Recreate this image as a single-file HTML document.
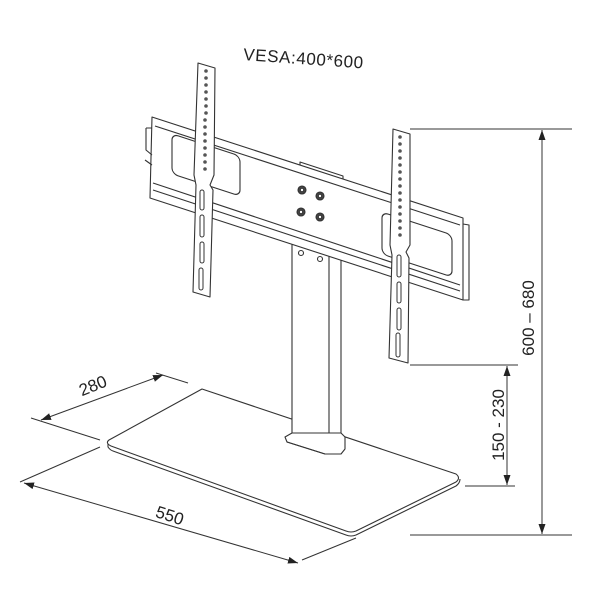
<!DOCTYPE html>
<html><head><style>body{margin:0;background:#fff}svg{display:block}</style></head>
<body>
<svg width="600" height="600" viewBox="0 0 600 600" xmlns="http://www.w3.org/2000/svg" font-family="Liberation Sans, Arial, sans-serif">
<defs>
<marker id="a" viewBox="0 0 10 10" refX="10" refY="5" markerWidth="10" markerHeight="10" orient="auto-start-reverse" markerUnits="userSpaceOnUse"><path d="M0,1.5 L10,5 L0,8.5z" fill="#222"/></marker>
</defs>
<g stroke="#333" stroke-width="1.1" fill="#fff" stroke-linejoin="round">
<!-- base plate -->
<path d="M109,440 L202,389 L456,474 Q461,478 456,482 L356,531 Q351,533 346,531 L111,446 Q105,443 109,440z"/>
<path d="M108,444 L108,447 Q110,450 113,451 L346,535 Q351,537 356,535 L456,486 Q460,483 460,479" fill="none"/>
<!-- column -->
<rect x="292" y="240" width="49" height="200"/>
<line x1="329" y1="250" x2="329" y2="440"/>
<path d="M285,437 L292,433 L341,433 L345,437 L345,449 L341,454 L325,454 L287,442z"/>
<path d="M287,442 L325,454" fill="none"/>
<circle cx="301" cy="253" r="2.5"/><circle cx="320" cy="259" r="2.5"/>
<!-- center block -->
<path d="M300,162 L343,176 L343,188 L300,176z"/>
<!-- horizontal bar -->
<path d="M152,117 L463,218 L463,300 L150,198z"/>
<path d="M155,126 L460,225" fill="none"/>
<path d="M153,183 L460,285" fill="none"/>
<path d="M153,190 L460,291" fill="none"/>
<path d="M146,128 L152,128 M146,128 L146,150 L152,155 M145,160 L152,165" fill="none"/>
<path d="M463,224 L469,225 L469,300 L463,300" fill="none"/>
<rect x="172" y="140" width="68" height="40" rx="6" transform="skewY(18) translate(0,-62)"/>
<rect x="382" y="212" width="70" height="42" rx="6" transform="skewY(18) translate(0,-124)"/>
<!-- bolts -->
<g fill="#444"><circle cx="302" cy="190" r="4"/><circle cx="320" cy="196" r="4"/><circle cx="301" cy="212" r="4"/><circle cx="320" cy="217" r="4"/></g>
<g fill="#fff" stroke-width="0.8"><circle cx="302" cy="190" r="1.6"/><circle cx="320" cy="196" r="1.6"/><circle cx="301" cy="212" r="1.6"/><circle cx="320" cy="217" r="1.6"/></g>
<!-- left arm -->
<path d="M198,63 L215,68 L214,175 L210,185 L213,190 L210,297 L193,292 L196,185 L194,175z"/>
<!-- right arm -->
<path d="M393,129 L410,134 L410,245 L406,252 L409,258 L408,363 L389,358 L392,255 L390,245z"/>
</g>
<g fill="#555">
<circle cx="206" cy="71" r="1.8"/><circle cx="206" cy="78" r="1.8"/><circle cx="206" cy="85" r="1.8"/><circle cx="206" cy="92" r="1.8"/><circle cx="206" cy="99" r="1.8"/><circle cx="206" cy="106" r="1.8"/><circle cx="206" cy="113" r="1.8"/><circle cx="205" cy="120" r="1.8"/><circle cx="205" cy="127" r="1.8"/><circle cx="205" cy="134" r="1.8"/><circle cx="205" cy="141" r="1.8"/><circle cx="205" cy="148" r="1.8"/><circle cx="205" cy="155" r="1.8"/><circle cx="205" cy="162" r="1.8"/><circle cx="205" cy="169" r="1.8"/>
<circle cx="400" cy="137" r="1.8"/><circle cx="400" cy="144" r="1.8"/><circle cx="400" cy="151" r="1.8"/><circle cx="400" cy="158" r="1.8"/><circle cx="400" cy="165" r="1.8"/><circle cx="400" cy="172" r="1.8"/><circle cx="400" cy="179" r="1.8"/><circle cx="400" cy="186" r="1.8"/><circle cx="400" cy="193" r="1.8"/><circle cx="400" cy="200" r="1.8"/><circle cx="400" cy="207" r="1.8"/><circle cx="400" cy="214" r="1.8"/><circle cx="400" cy="221" r="1.8"/><circle cx="400" cy="228" r="1.8"/><circle cx="400" cy="235" r="1.8"/>
</g>
<g fill="none" stroke="#333" stroke-width="1">
<rect x="200" y="190" width="4" height="20" rx="2"/><rect x="200" y="215" width="4" height="22" rx="2"/><rect x="200" y="242" width="4" height="21" rx="2"/><rect x="199" y="268" width="4" height="22" rx="2"/>
<rect x="397" y="255" width="4" height="22" rx="2"/><rect x="397" y="282" width="4" height="21" rx="2"/><rect x="397" y="308" width="4" height="22" rx="2"/><rect x="396" y="333" width="4" height="24" rx="2"/>
</g>
<!-- dimensions -->
<g stroke="#333" stroke-width="1" fill="none">
<line x1="410" y1="129" x2="572" y2="129"/>
<line x1="410" y1="365" x2="518" y2="365"/>
<line x1="465" y1="486" x2="515" y2="486"/>
<line x1="410" y1="535" x2="572" y2="535"/>
<line x1="542" y1="130" x2="542" y2="534" marker-start="url(#a)" marker-end="url(#a)"/>
<line x1="507" y1="366" x2="507" y2="485" marker-start="url(#a)" marker-end="url(#a)"/>
<line x1="31" y1="418" x2="100" y2="440"/>
<line x1="156" y1="373" x2="188" y2="383"/>
<line x1="41" y1="420" x2="163" y2="375" marker-start="url(#a)" marker-end="url(#a)"/>
<line x1="20" y1="482" x2="100" y2="447"/>
<line x1="302" y1="560" x2="356" y2="538"/>
<line x1="24" y1="483" x2="298" y2="563" marker-start="url(#a)" marker-end="url(#a)"/>
</g>
<g fill="#222" font-size="17">
<text x="243" y="60" font-size="17" letter-spacing="0.6" transform="rotate(4 243 60)">VESA:400*600</text>
<text x="95" y="391" text-anchor="middle" transform="rotate(-22 95 391)">280</text>
<text x="168" y="521" text-anchor="middle" transform="rotate(18 168 521)">550</text>
<text x="534" y="318" text-anchor="middle" transform="rotate(-90 534 318)">600 – 680</text>
<text x="504" y="425" text-anchor="middle" transform="rotate(-90 504 425)">150 - 230</text>
</g>
</svg>
</body></html>
